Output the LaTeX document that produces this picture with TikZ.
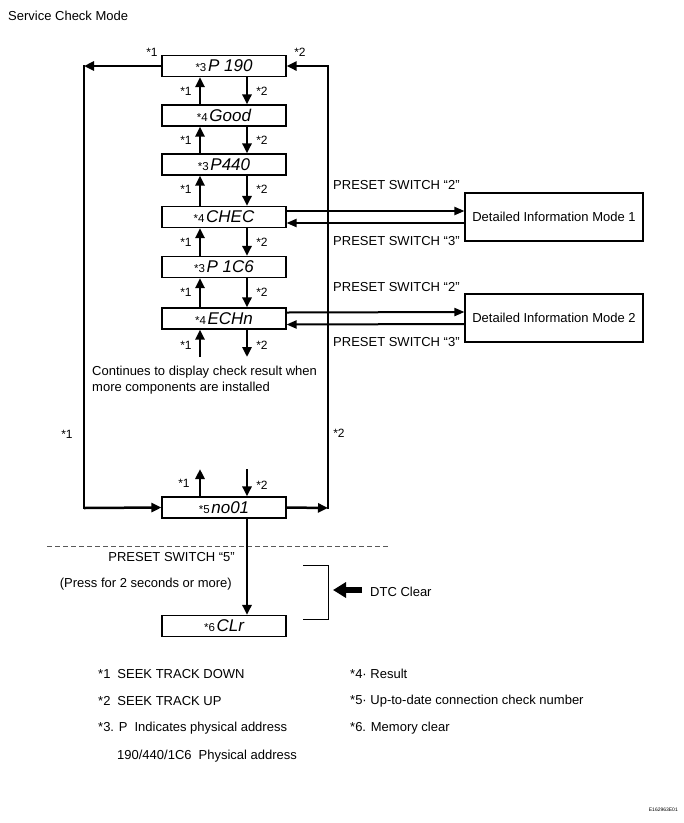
\documentclass[tikz,border=0pt]{standalone}
\usepackage{fontspec}
\setmainfont{Liberation Sans}
\usetikzlibrary{arrows.meta}
\newcommand{\lblfont}{\fontsize{13}{16}\selectfont}
\newcommand{\starfont}{\fontsize{12}{13}\selectfont}
\newcommand{\segtxt}[2]{{\fontsize{11.5}{12}\selectfont #1}\,{\fontsize{17}{18}\selectfont\itshape #2}}
\begin{document}
\begin{tikzpicture}[x=1pt,y=-1pt,
  disp/.style={draw, line width=1.1pt, minimum width=124pt, minimum height=21pt, inner sep=0pt},
  det/.style={draw, line width=1.1pt, minimum width=178pt, minimum height=48pt, inner sep=0pt, font=\lblfont},
  thk/.style={line width=2.5pt, -{Triangle[length=10pt,width=9pt]}},
  thkline/.style={line width=2.5pt, line cap=rect},
  thn/.style={line width=2pt, -{Triangle[length=10pt,width=8pt]}},
  lbl/.style={font=\lblfont, inner sep=0pt},
  star/.style={font=\starfont, inner sep=0pt}]
\useasboundingbox (0,0) rectangle (684,823);

\node[lbl, anchor=west] (title) at (8,16) {Service Check Mode};

% display boxes
\node[disp] (p190) at (224,66) {\segtxt{*3}{P 190}};
\node[disp] (good) at (224,115.5) {\segtxt{*4}{Good}};
\node[disp] (p440) at (224,164.5) {\segtxt{*3}{P440}};
\node[disp] (chec) at (224,217) {\segtxt{*4}{CHEC}};
\node[disp] (p1c6) at (224,267) {\segtxt{*3}{P 1C6}};
\node[disp] (echn) at (224,318.5) {\segtxt{*4}{ECHn}};
\node[disp] (no01) at (224,507.5) {\segtxt{*5}{no01}};
\node[disp] (clr) at (224,626) {\segtxt{*6}{CLr}};

% detailed information boxes
\node[det] (det1) at (554,217) {Detailed Information Mode 1};
\node[det] (det2) at (554,318) {Detailed Information Mode 2};

% arrows between the display boxes
\foreach \lo/\up/\ym in {good/p190/91, p440/good/140, chec/p440/189.5, p1c6/chec/242, echn/p1c6/292.5}{
  \draw[thk] ([xshift=-24pt]\lo.north) -- ([xshift=-24pt]\up.south);
  \draw[thk] ([xshift=23pt]\up.south) -- ([xshift=23pt]\lo.north);
  \node[star] at (186,\ym) {*1};
  \node[star] at (262,\ym) {*2};
}
\coordinate (e1) at (200,357);
\coordinate (e2) at (247,357);
\draw[thk] (e1) -- ([xshift=-24pt]echn.south);
\draw[thk] ([xshift=23pt]echn.south) -- (e2);
\node[star] at (186,345) {*1};
\node[star] at (262,345) {*2};

\coordinate (f1) at (200,469);
\coordinate (f2) at (247,469);
\draw[thk] ([xshift=-24pt]no01.north) -- (f1);
\draw[thk] (f2) -- ([xshift=23pt]no01.north);
\node[star] at (184,483) {*1};
\node[star] at (262,485) {*2};

\node[lbl, anchor=west, align=left] (cont) at (92,380) {Continues to display check result when\\more components are installed};

% outer loops
\coordinate (TL) at (84,66);
\coordinate (BL) at (84,508);
\coordinate (TR) at (328,66);
\coordinate (BR) at (328,508);
\draw[thk] (p190.west) -- (TL);
\draw[thkline] (TL) -- (BL);
\draw[thk] (BL) -- (no01.west);
\draw[thk] (no01.east) -- (BR);
\draw[thkline] (BR) -- (TR);
\draw[thk] (TR) -- (p190.east);
\node[star] at (152,52) {*1};
\node[star] at (300,52) {*2};
\node[star] at (67,434) {*1};
\node[star] at (339,433) {*2};

% preset switch arrows
\draw[thn] ([yshift=6pt]chec.east) -- ([yshift=6pt]det1.west);
\draw[thn] ([yshift=-6pt]det1.west) -- ([yshift=-6pt]chec.east);
\draw[thn] ([yshift=6pt]echn.east) -- ([yshift=6pt]det2.west);
\draw[thn] ([yshift=-6pt]det2.west) -- ([yshift=-6pt]echn.east);
\node[lbl, anchor=west] at (333,185) {PRESET SWITCH “2”};
\node[lbl, anchor=west] at (333,241) {PRESET SWITCH “3”};
\node[lbl, anchor=west] at (333,287) {PRESET SWITCH “2”};
\node[lbl, anchor=west] at (333,342) {PRESET SWITCH “3”};

% DTC clear section
\coordinate (DL) at (47,546);
\coordinate (DR) at (390,546);
\draw[gray!70!black, line width=0.8pt, dash pattern=on 5pt off 3pt] (DL) -- (DR);
\draw[thk] ([xshift=23pt]no01.south) -- ([xshift=23pt]clr.north);
\node[lbl, anchor=east] at (235,557) {PRESET SWITCH “5”};
\node[lbl, anchor=east] at (232,584) {(Press for 2 seconds or more)};
\coordinate (B1) at (303,565);
\coordinate (B2) at (328,565);
\coordinate (B3) at (328,619);
\coordinate (B4) at (303,619);
\draw[line width=0.9pt] (B1) -- (B2) -- (B3) -- (B4);
\coordinate (DA) at (362,590);
\coordinate (DB) at (333,590);
\draw[line width=5.5pt, -{Triangle[length=13pt,width=15pt]}] (DA) -- (DB);
\node[lbl, anchor=west] at (370,592) {DTC Clear};

% legend
\node[lbl, anchor=west] at (98,674) {*1\hspace{7pt}SEEK TRACK DOWN};
\node[lbl, anchor=west] at (98,701) {*2\hspace{7pt}SEEK TRACK UP};
\node[lbl, anchor=west] at (98,728) {*3. P\hspace{7pt}Indicates physical address};
\node[lbl, anchor=west] at (117,756) {190/440/1C6\hspace{7pt}Physical address};
\node[lbl, anchor=west] at (350,674) {*4· Result};
\node[lbl, anchor=west] at (350,701) {*5· Up-to-date connection check number};
\node[lbl, anchor=west] at (350,728) {*6. Memory clear};

\node[font=\fontsize{5}{6}\selectfont, inner sep=0pt, anchor=east] at (678,810) {E162963E01};
\end{tikzpicture}
\end{document}
